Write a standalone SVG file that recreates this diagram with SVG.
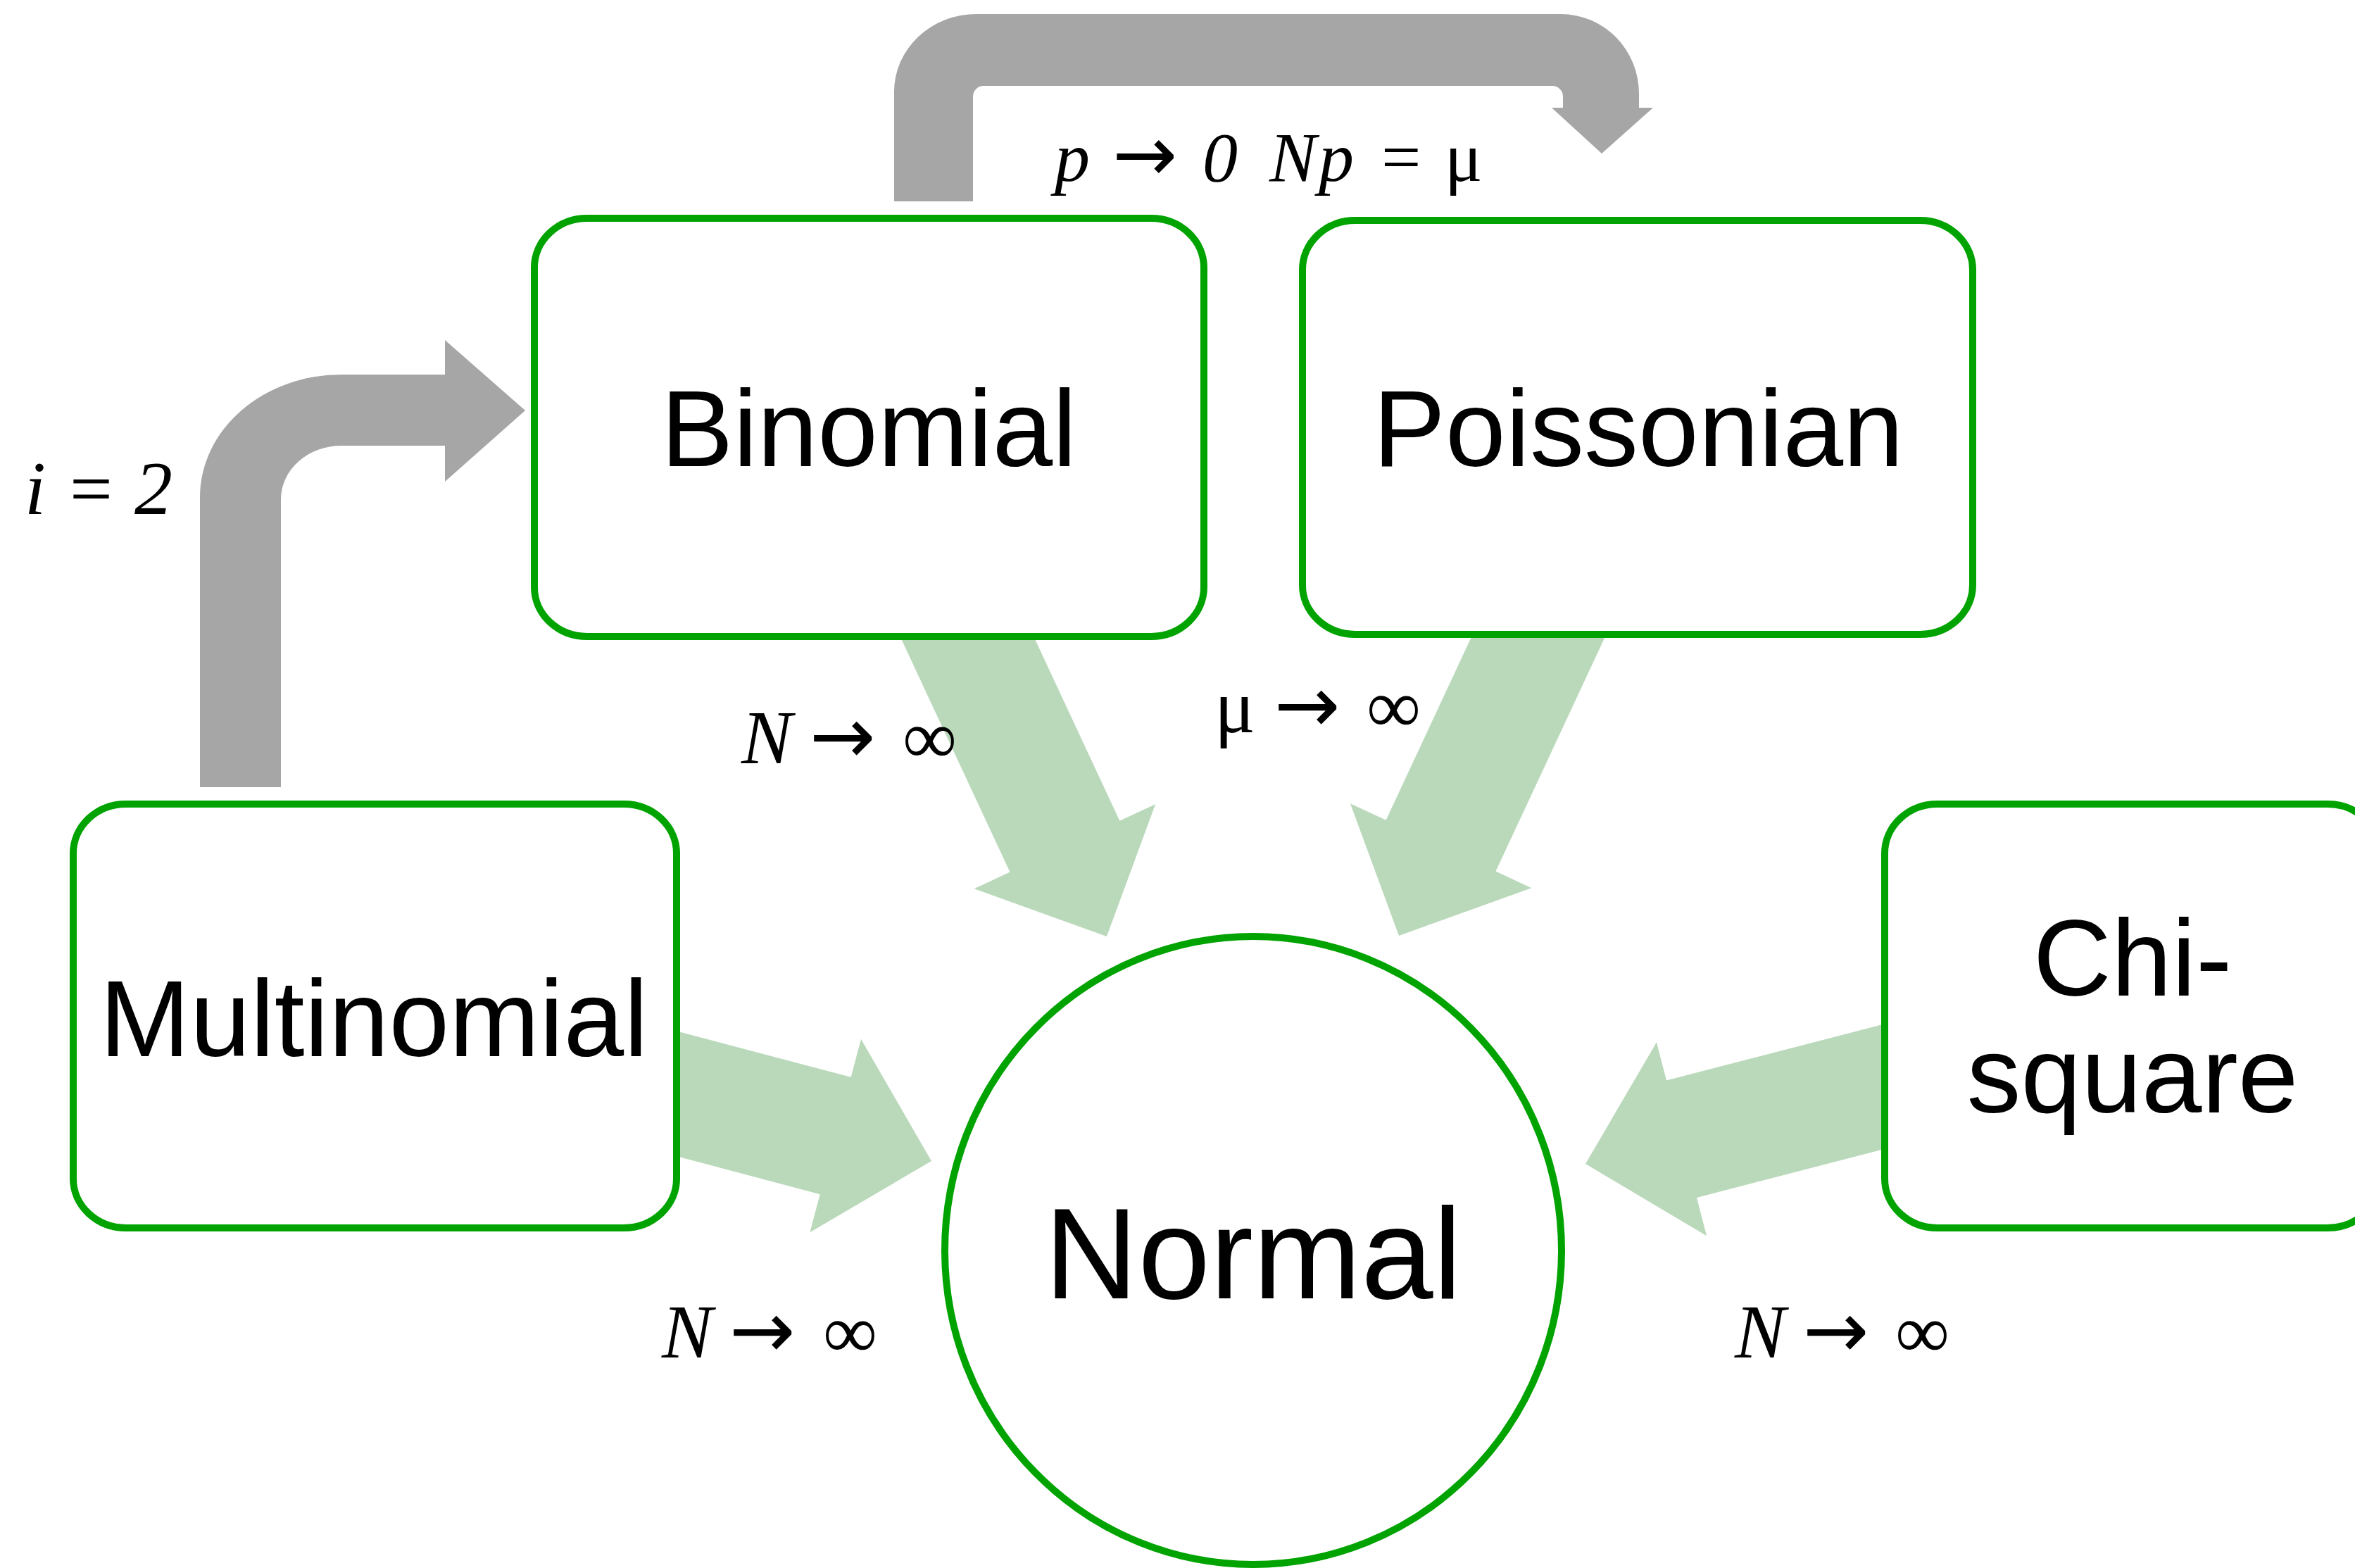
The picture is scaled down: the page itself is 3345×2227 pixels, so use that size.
<svg xmlns="http://www.w3.org/2000/svg" width="3345" height="2227" viewBox="0 0 3345 2227">
  <defs>
    <style>
      .box { fill: #ffffff; stroke: #00a300; stroke-width: 10; }
      .node-text { font-family: "Liberation Sans", Arial, sans-serif; font-size: 154px; fill: #000000; text-anchor: middle; }
      .big { font-size: 184px; }
      .green-arrow { fill: #bad9bb; }
      .gray-arrow { fill: #a6a6a6; }
      .math { font-family: "Liberation Serif", "Times New Roman", serif; font-size: 108px; fill: #000000; }
      .it { font-style: italic; }
      .arr { font-family: "DejaVu Sans", sans-serif; font-size: 112px; }
    </style>
    <path id="fatArrow" d="M0,0 L-141,-142 L-141,-86 L-520,-86 L-520,86 L-141,86 L-141,142 Z"/>
  </defs>
  <rect width="3345" height="2227" fill="#ffffff"/>

  <g id="connectors">
    <use href="#fatArrow" class="green-arrow" transform="translate(1572,1330) rotate(65)"/>
    <use href="#fatArrow" class="green-arrow" transform="translate(1987,1329) rotate(115)"/>
    <use href="#fatArrow" class="green-arrow" transform="translate(1323,1649) rotate(14.8)"/>
    <use href="#fatArrow" class="green-arrow" transform="translate(2252,1653) rotate(165.5)"/>
    <path class="gray-arrow" d="M284,1118 L284,706 A201,174 0 0 1 485,532 L632,532 L632,483 L746,583 L632,684 L632,633 L485,633 A86,76 0 0 0 399,709 L399,1118 Z"/>
    <path class="gray-arrow" d="M1270,286 L1270,130 A117,110 0 0 1 1387,20 L2217,20 A111,113 0 0 1 2328,133 L2328,153 L2348,153 L2275,218 L2204,153 L2220,153 L2220,137 A15,15 0 0 0 2205,122 L1397,122 A15,15 0 0 0 1382,137 L1382,286 Z"/>
  </g>

  <g id="node-binomial">
    <rect class="box" x="759" y="310" width="951" height="594" rx="75" ry="70"/>
    <text class="node-text" x="1234" y="662">Binomial</text>
  </g>
  <g id="node-poissonian">
    <rect class="box" x="1850" y="313" width="952" height="588" rx="75" ry="70"/>
    <text class="node-text" x="2327" y="662">Poissonian</text>
  </g>
  <g id="node-multinomial">
    <rect class="box" x="104" y="1142" width="857" height="602" rx="75" ry="70"/>
    <text class="node-text" x="531" y="1500">Multinomial</text>
  </g>
  <g id="node-chisquare">
    <rect class="box" x="2677" y="1142" width="704" height="602" rx="75" ry="70"/>
    <text class="node-text" x="3029" y="1414">Chi-</text>
    <text class="node-text" x="3029" y="1580">square</text>
  </g>
  <g id="node-normal">
    <ellipse class="box" cx="1780" cy="1776" rx="438" ry="446"/>
    <text class="node-text big" x="1780" y="1844">Normal</text>
  </g>

  <g id="labels">
    <text class="math" y="1084"><tspan class="it" x="1053">N</tspan><tspan class="arr" x="1150">→</tspan><tspan x="1282">∞</tspan></text>
    <text class="math" y="1040"><tspan x="1725">μ</tspan><tspan class="arr" x="1810">→</tspan><tspan x="1941">∞</tspan></text>
    <text class="math" y="1928"><tspan class="it" x="940">N</tspan><tspan class="arr" x="1036">→</tspan><tspan x="1169">∞</tspan></text>
    <text class="math" y="1928"><tspan class="it" x="2464">N</tspan><tspan class="arr" x="2561">→</tspan><tspan x="2692">∞</tspan></text>
    <text class="math" y="730"><tspan class="it" x="35">i</tspan><tspan x="99">=</tspan><tspan class="it" x="191">2</tspan></text>
    <text class="math" y="257" style="font-size:100px"><tspan class="it" x="1498">p</tspan><tspan class="arr" x="1580" style="font-size:110px">→</tspan><tspan class="it" x="1708">0</tspan><tspan class="it" x="1803">N</tspan><tspan class="it" x="1873">p</tspan><tspan x="1962">=</tspan><tspan x="2052">μ</tspan></text>
  </g>
</svg>
